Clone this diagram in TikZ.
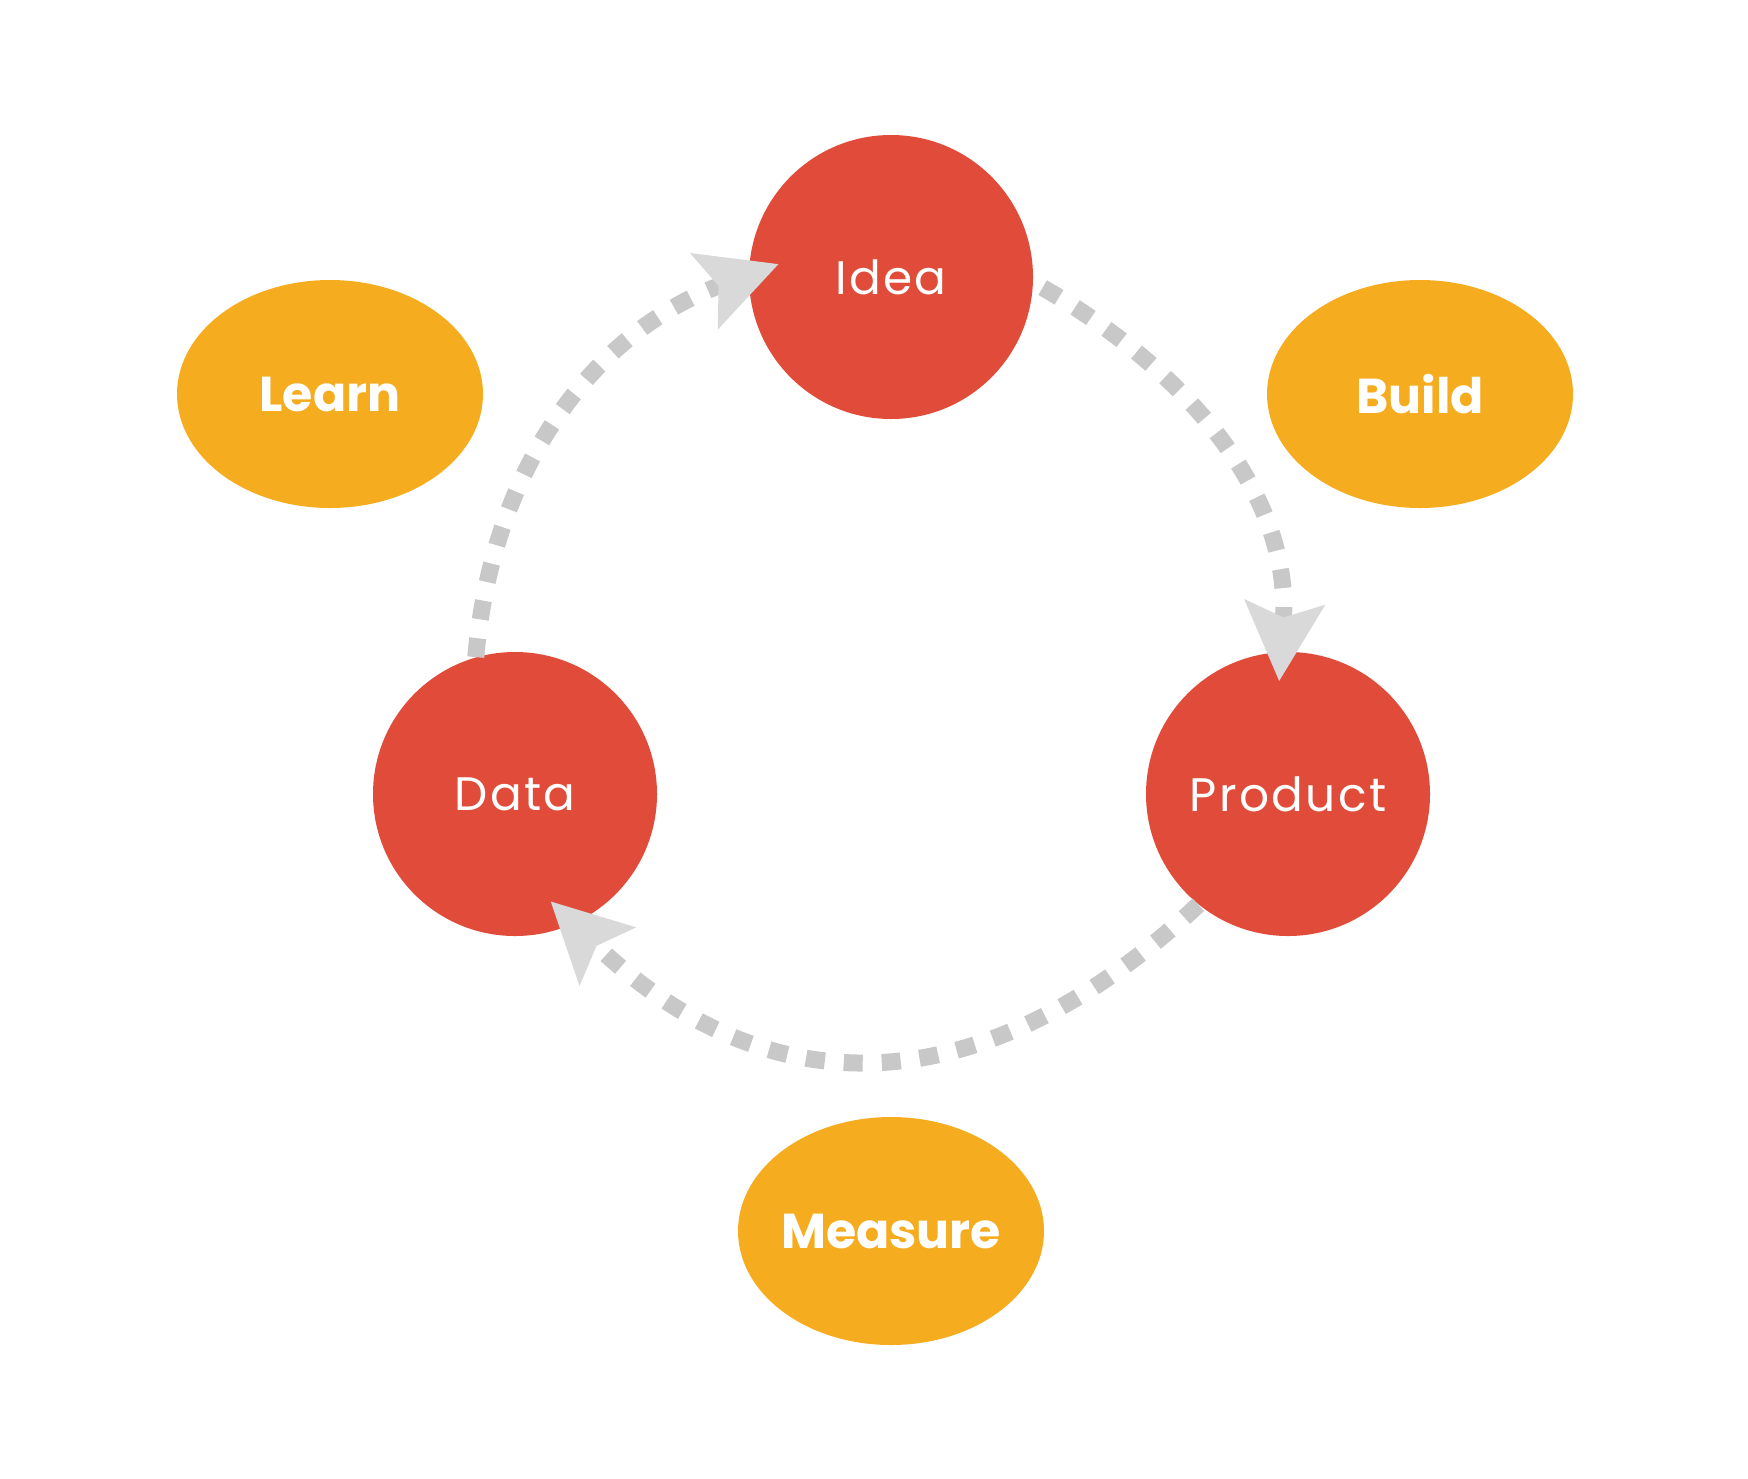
\documentclass[tikz,border=0pt]{standalone}
\usepackage{fontspec}
\setmainfont{Poppins}
\newfontfamily\lblfont[LetterSpace=5]{Poppins}
\usetikzlibrary{shapes.geometric,arrows.meta,calc}
\definecolor{cred}{HTML}{E04B3A}
\definecolor{corange}{HTML}{F6AC1F}
\definecolor{dashgray}{HTML}{C8C8C8}
\definecolor{tipgray}{HTML}{D9D9D9}
\tikzset{
  stage/.style={circle, fill=cred, minimum size=142pt, inner sep=0pt, text=white, font=\lblfont\fontsize{23.5}{28}\selectfont},
  phase/.style={ellipse, fill=corange, minimum width=153pt, minimum height=114pt, inner sep=-10pt, text=white, font=\bfseries\fontsize{24.5}{30}\selectfont},
  loop/.style={draw=dashgray, line width=8.5pt, dash pattern=on 9.5pt off 9.5pt,
    -{Stealth[length=39pt, width=39pt, inset=7pt, color=tipgray]}}
}
\begin{document}
\begin{tikzpicture}[x=0.5pt,y=-0.5pt]
\useasboundingbox (0,0) rectangle (1748,1478);
\node[phase] (learn) at (330,394) {Learn};
\node[phase] (build) at (1420,394) {Build};
\node[phase] (measure) at (891,1231) {Measure};
\node[stage] (idea) at (891,277) {Idea};
\node[stage] (product) at (1288,794) {Product};
\node[stage] (data) at (515,794) {Data};
\coordinate (t1) at ($(idea.center)+(173.4:56.5pt)$);
\coordinate (t2) at ($(product.center)+(94.5:56.5pt)$);
\coordinate (t3) at ($(data.center)+(-71.7:56.5pt)$);
\coordinate (s2) at ($(idea.center)+(-4:76pt)$);
\draw[loop] (data.106) to[out=85,in=200] (t1);
\draw[loop] (s2) to[out=-30,in=86] (t2);
\draw[loop] (product.-129) to[out=-137,in=-44,looseness=1.18] (t3);
\end{tikzpicture}
\end{document}
